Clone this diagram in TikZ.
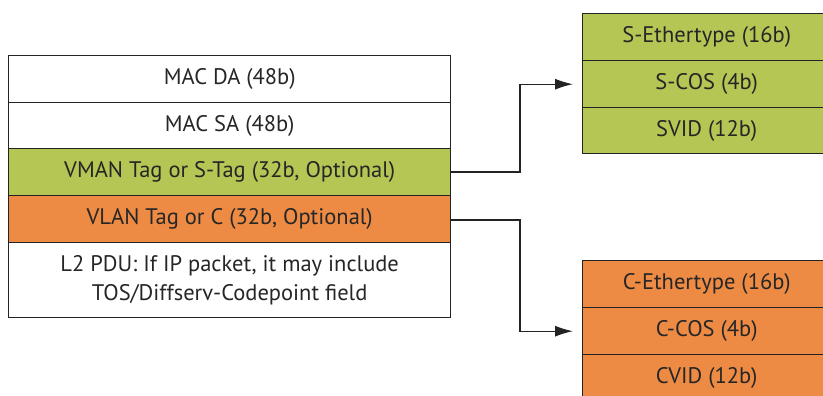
\documentclass[tikz,border=0pt]{standalone}
\usepackage{fontspec}
\setmainfont{PT Sans}
\usetikzlibrary{arrows.meta}
\definecolor{sgreen}{RGB}{181,198,84}
\definecolor{corange}{RGB}{237,139,69}
\definecolor{edge}{RGB}{35,35,35}
\tikzset{
  field/.style={draw=edge, line width=1.4pt, anchor=north west, inner sep=0pt,
    minimum width=#1, align=center, text=black!85, font=\fontsize{22.5}{28.5}\selectfont},
  conn/.style={draw=edge, line width=1.3pt, -{Latex[length=18pt,width=11pt]}}
}
\begin{document}
\begin{tikzpicture}[x=1pt,y=-1pt]
\useasboundingbox (0,0) rectangle (823,396);
\clip (0,0) rectangle (823,396);
% left frame
\node[field=442pt, minimum height=47pt, fill=white] (da) at (8,55) {MAC DA (48b)};
\node[field=442pt, minimum height=46pt, fill=white] (sa) at (8,102) {MAC SA (48b)};
\node[field=442pt, minimum height=47pt, fill=sgreen] (stag) at (8,148) {VMAN Tag or S-Tag (32b, Optional)};
\node[field=442pt, minimum height=47pt, fill=corange] (ctag) at (8,195) {VLAN Tag or C (32b, Optional)};
\node[field=442pt, minimum height=75pt, fill=white] (pdu) at (8,242) {L2 PDU: If IP packet, it may include\\TOS/Diffserv-Codepoint field};
% S-tag fields
\node[field=248pt, minimum height=47pt, fill=sgreen] (seth) at (582,13) {S-Ethertype (16b)};
\node[field=248pt, minimum height=47pt, fill=sgreen] (scos) at (582,60) {S-COS (4b)};
\node[field=248pt, minimum height=46pt, fill=sgreen] (svid) at (582,107) {SVID (12b)};
% C-tag fields
\node[field=248pt, minimum height=47pt, fill=corange] (ceth) at (582,260) {C-Ethertype (16b)};
\node[field=248pt, minimum height=47pt, fill=corange] (ccos) at (582,307) {C-COS (4b)};
\node[field=248pt, minimum height=47pt, fill=corange] (cvid) at (582,354) {CVID (12b)};
% connectors
\coordinate (s1) at (520,172);
\coordinate (c1) at (520,220);
\draw[conn] (stag.east |- s1) -- (s1) |- ([xshift=-9pt]scos.west);
\draw[conn] (ctag.east |- c1) -- (c1) |- ([xshift=-9pt]ccos.west);
\end{tikzpicture}
\end{document}
